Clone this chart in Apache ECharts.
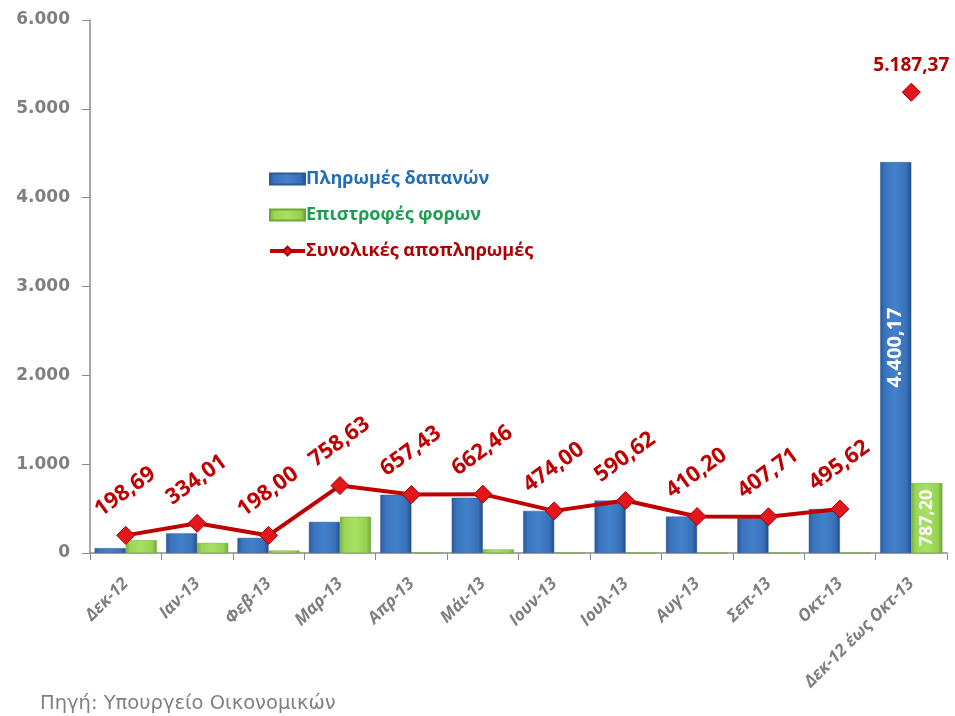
<!DOCTYPE html>
<html><head><meta charset="utf-8">
<script src="https://cdn.jsdelivr.net/npm/echarts@6/dist/echarts.min.js"></script>
<style>html,body{margin:0;padding:0;background:#fff}#c{width:955px;height:716px}</style>
</head><body><div id="c"></div>
<script>
var categories = ['Δεκ-12','Ιαν-13','Φεβ-13','Μαρ-13','Απρ-13','Μάι-13','Ιουν-13','Ιουλ-13','Αυγ-13','Σεπ-13','Οκτ-13','Δεκ-12 έως Οκτ-13'];
var payments = [55, 221, 170, 350, 655, 622, 474, 590, 410, 392, 495, 4400.17];
var refunds = [144, 113, 28, 408, 0, 40, 0, 0, 0, 0, 0, 787.20];
var totals = [198.69, 334.01, 198.00, 758.63, 657.43, 662.46, 474.00, 590.62, 410.20, 407.71, 495.62];
var grandTotal = 5187.37;
var yTicks = [0, 1000, 2000, 3000, 4000, 5000, 6000];

function fmt(v){
  var p = v.toFixed(2).split('.');
  return p[0].replace(/\B(?=(\d{3})+$)/g,'.') + ',' + p[1];
}
function fmtInt(v){ return String(v).replace(/\B(?=(\d{3})+$)/g,'.'); }

var n = categories.length;
var lineData = totals.slice(); lineData.push('-');
var scatterData = []; for (var i=0;i<n-1;i++) scatterData.push('-'); scatterData.push(grandTotal);

var blueGrad = new echarts.graphic.LinearGradient(0,0,1,0,[
  {offset:0,color:'#2a5898'},{offset:0.15,color:'#3a74be'},{offset:0.5,color:'#4381cc'},{offset:0.85,color:'#3870b8'},{offset:1,color:'#214b85'}]);
var greenGrad = new echarts.graphic.LinearGradient(0,0,1,0,[
  {offset:0,color:'#78b23e'},{offset:0.15,color:'#9bd657'},{offset:0.5,color:'#a8e062'},{offset:0.85,color:'#96d152'},{offset:1,color:'#6fa736'}]);

var blueData = payments.map(function(v,i){
  var d = {value:v};
  if (i===n-1) d.label = {show:true, position:'inside', rotate:90, color:'#fff', fontFamily:'Open Sans', fontWeight:'bold', fontSize:20, offset:[10,0], formatter:function(p){return fmt(p.value);}};
  return d;
});
var greenData = refunds.map(function(v,i){
  var d = {value:v};
  if (i===n-1) d.label = {show:true, position:'inside', rotate:90, color:'#fff', fontFamily:'Open Sans', fontWeight:'bold', fontSize:18, formatter:function(p){return fmt(p.value);}};
  return d;
});

var chart = echarts.init(document.getElementById('c'));
chart.setOption({
  animation:false,
  grid:{left:90, right:8, top:20, bottom:163, containLabel:false},
  legend:{
    orient:'vertical', left:263, top:165, itemGap:18, itemWidth:35, itemHeight:11,
    textStyle:{fontFamily:'Open Sans', fontWeight:'bold', fontSize:18, padding:[0,0,0,-4]},
    data:[
      {name:'Πληρωμές δαπανών', icon:'rect', textStyle:{color:'#1f6fb8'}},
      {name:'Επιστροφές φορων', icon:'rect', textStyle:{color:'#1e9e52'}},
      {name:'Συνολικές αποπληρωμές', textStyle:{color:'#b00000'}, lineStyle:{width:4, color:'#c00000'}}
    ]
  },
  xAxis:{
    type:'category', data:categories, boundaryGap:true,
    axisLine:{lineStyle:{color:'#8c8c8c', width:1.5}},
    axisTick:{show:true, interval:0, length:7, lineStyle:{color:'#8c8c8c'}},
    axisLabel:{interval:0, rotate:45, color:'#7f7f7f', fontFamily:'Open Sans', fontStyle:'italic', fontWeight:'bold', fontSize:17, margin:28}
  },
  yAxis:{
    type:'value', min:0, max:6000, interval:1000,
    axisLine:{show:true, lineStyle:{color:'#8c8c8c', width:1.5}},
    axisTick:{show:true, length:8, lineStyle:{color:'#8c8c8c'}},
    splitLine:{show:false},
    axisLabel:{color:'#7f7f7f', fontFamily:'DejaVu Sans', fontWeight:'bold', fontSize:17, margin:20,
      formatter:function(v){return yTicks.indexOf(v)>=0 ? fmtInt(v) : '';}}
  },
  series:[
    {name:'Πληρωμές δαπανών', type:'bar', data:blueData, barGap:'0%', barCategoryGap:'13%',
      itemStyle:{color:blueGrad, borderColor:'#2a5a98', borderWidth:0.5}},
    {name:'Επιστροφές φορων', type:'bar', data:greenData,
      itemStyle:{color:greenGrad, borderColor:'#6fa736', borderWidth:0.5}},
    {name:'Συνολικές αποπληρωμές', type:'line', data:lineData, symbol:'diamond', symbolSize:18,
      lineStyle:{color:'#c00000', width:4}, itemStyle:{color:'#e3161c', borderColor:'#a00000', borderWidth:1, opacity:1},
      z:5,
      label:{show:true, position:[9,-34], align:'center', verticalAlign:'middle', rotate:36, color:'#c00000', fontFamily:'Open Sans', fontWeight:'bold', fontSize:22,
        formatter:function(p){return fmt(p.value);}}},
    {name:'Συνολικές αποπληρωμές', type:'scatter', data:scatterData, symbol:'diamond', symbolSize:18,
      itemStyle:{color:'#e3161c', borderColor:'#a00000', borderWidth:1, opacity:1}, z:5,
      label:{show:true, position:'top', distance:8, color:'#b00000', fontFamily:'Open Sans', fontWeight:'bold', fontSize:19,
        formatter:function(p){return fmt(p.value);}}}
  ],
  graphic:[{type:'text', left:40, top:694, style:{text:'Πηγή: Υπουργείο Οικονομικών', fill:'#808080', font:'19.5px "DejaVu Sans ExtraLight", "DejaVu Sans", sans-serif'}}]
});
</script></body></html>
